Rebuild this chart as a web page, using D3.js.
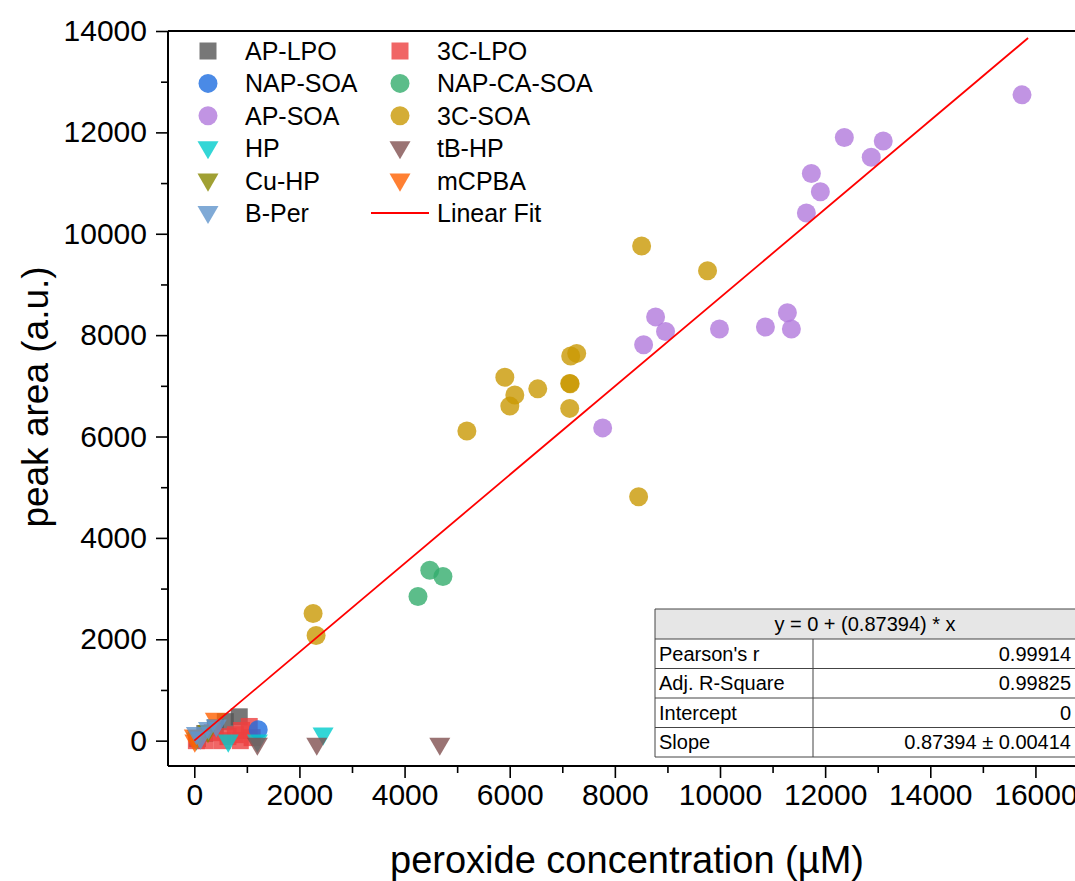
<!DOCTYPE html>
<html>
<head>
<meta charset="utf-8">
<script src="https://cdn.jsdelivr.net/npm/d3@7"></script>
<style>
  body { margin: 0; background: #fff; }
  text { font-family: "Liberation Sans", Arial, sans-serif; }
</style>
</head>
<body>
<div id="chart"></div>
<script>
// values: [peroxide conc (uM), peak area]
const apLpo = [[855, 470], [590, 375], [400, 255], [200, 140], [60, 40]];
const c3Lpo = [[1045, 280], [900, 200], [780, 118], [640, 80], [532, 0], [342, 158], [209, 0], [40, 0], [875, 0], [1100, 60]];
const napSoa = [[1216, 217]];
const napCaSoa = [[4480, 3360], [4730, 3240], [4255, 2845]];
const apSoa = [[15745, 12740], [12365, 11900], [13105, 11830], [12877, 11510], [11738, 11190], [11909, 10830],
               [11643, 10410], [8775, 8360], [8964, 8070], [8547, 7810], [9990, 8120], [10864, 8160],
               [11282, 8440], [11358, 8120], [7768, 6170]];
const c3Soa = [[8509, 9760], [9763, 9270], [7274, 7640], [7160, 7590], [7141, 7048], [7150, 7040],
               [7141, 6555], [6533, 6940], [6097, 6820], [5907, 7170], [6002, 6600], [5185, 6110],
               [8452, 4810], [2260, 2510], [2317, 2075]];
const hp = [[646, 0], [1200, 0], [2450, 140], [40, 40]];
const tbHp = [[1200, -60], [2330, -60], [4670, -60]];
const cuHp = [[60, 90], [260, 190]];
const mcpba = [[400, 430], [0, 100], [10, 0]];
const bPer = [[40, 150], [270, 250], [420, 300], [120, 60]];

const seriesNames = ["AP-LPO", "3C-LPO", "NAP-SOA", "NAP-CA-SOA", "AP-SOA", "3C-SOA",
                     "HP", "tB-HP", "Cu-HP", "mCPBA", "B-Per"];
const seriesData = [apLpo, c3Lpo, napSoa, napCaSoa, apSoa, c3Soa, hp, tbHp, cuHp, mcpba, bPer];
const seriesShape = ["square", "square", "circle", "circle", "circle", "circle",
                     "tri", "tri", "tri", "tri", "tri"];
const seriesColor = ["#555555", "#ec4040", "#1d6de0", "#33ac6d", "#b179dc", "#c99804",
                     "#00cccc", "#815050", "#888800", "#ff6000", "#6095cc"];

const fitSlope = 0.87394;
const fitRange = [0, 15860];

const xTicks = [0, 2000, 4000, 6000, 8000, 10000, 12000, 14000, 16000];
const yTicks = [0, 2000, 4000, 6000, 8000, 10000, 12000, 14000];

const tableTitle = "y = 0 + (0.87394) * x";
const tableRows = [["Pearson's r", "0.99914"], ["Adj. R-Square", "0.99825"],
                   ["Intercept", "0"], ["Slope", "0.87394 \u00b1 0.00414"]];

const width = 1075, height = 881;
const pLeft = 168, pTop = 31, pBottom = 766, pRight = 1088;

const svg = d3.select("#chart").append("svg")
    .attr("width", width)
    .attr("height", height);

const x = d3.scaleLinear().domain([-500, 17000]).range([pLeft, pRight]);
const y = d3.scaleLinear().domain([-500, 14000]).range([pBottom, pTop]);

// symbols
const sym = {
    square: d3.symbol(d3.symbolSquare, 17 * 17)(),
    circle: d3.symbol(d3.symbolCircle, Math.PI * 9.5 * 9.5)(),
    tri: d3.symbol(d3.symbolTriangle, Math.sqrt(3) / 4 * 21 * 21)()
};
const symRot = s => s === "tri" ? " rotate(180)" : "";

// points
seriesData.forEach((pts, i) => {
    svg.append("g").selectAll("path")
        .data(pts)
        .enter().append("path")
        .attr("d", sym[seriesShape[i]])
        .attr("transform", d => `translate(${x(d[0])},${y(d[1])})` + symRot(seriesShape[i]))
        .attr("fill", seriesColor[i])
        .attr("fill-opacity", 0.8);
});

// linear fit
svg.append("line")
    .attr("x1", x(fitRange[0])).attr("y1", y(fitRange[0] * fitSlope))
    .attr("x2", x(fitRange[1])).attr("y2", y(fitRange[1] * fitSlope))
    .attr("stroke", "#ff0000")
    .attr("stroke-width", 1.8);

// axes
const xAxis = svg.append("g")
    .attr("transform", `translate(0,${pBottom})`)
    .call(d3.axisBottom(x).tickValues(xTicks).tickSize(12).tickPadding(6).tickFormat(d3.format("d")));
svg.append("g")
    .attr("transform", `translate(0,${pBottom})`)
    .call(d3.axisBottom(x).tickValues(d3.range(1000, 17000, 2000)).tickSize(7).tickFormat(""))
    .select(".domain").remove();
const yAxis = svg.append("g")
    .attr("transform", `translate(${pLeft},0)`)
    .call(d3.axisLeft(y).tickValues(yTicks).tickSize(12).tickPadding(9).tickFormat(d3.format("d")));
svg.append("g")
    .attr("transform", `translate(${pLeft},0)`)
    .call(d3.axisLeft(y).tickValues(d3.range(1000, 14000, 2000)).tickSize(7).tickFormat(""))
    .select(".domain").remove();

svg.selectAll(".tick line").attr("stroke", "#000").attr("stroke-width", 1.6);
svg.selectAll(".domain").attr("stroke", "#000").attr("stroke-width", 2);
xAxis.selectAll(".domain").attr("d", `M${pLeft},0H${pRight}`);
yAxis.selectAll(".domain").attr("d", `M0,${pBottom}V${pTop}`);
svg.selectAll(".tick text").attr("font-size", 30).attr("fill", "#000")
    .attr("font-family", "'Liberation Sans', Arial, sans-serif");

// top frame
svg.append("line")
    .attr("x1", pLeft).attr("x2", pRight).attr("y1", pTop).attr("y2", pTop)
    .attr("stroke", "#000").attr("stroke-width", 2);

// axis titles
svg.append("text")
    .attr("x", 627).attr("y", 873)
    .attr("text-anchor", "middle")
    .attr("font-size", 38)
    .text("peroxide concentration (\u00b5M)");
svg.append("text")
    .attr("transform", "translate(48,397) rotate(-90)")
    .attr("text-anchor", "middle")
    .attr("font-size", 37)
    .text("peak area (a.u.)");

// legend
const legend = svg.append("g");
const legendItems = seriesNames.map((n, i) => ({ name: n, shape: seriesShape[i], color: seriesColor[i] }))
    .concat([{ name: "Linear Fit", shape: "line", color: "#ff0000" }]);
legendItems.forEach((d, i) => {
    const col = i % 2, row = Math.floor(i / 2);
    const sx = col === 0 ? 208 : 400;
    const ty = 51 + row * 32.4;
    if (d.shape === "line") {
        legend.append("line")
            .attr("x1", sx - 29).attr("x2", sx + 29).attr("y1", ty).attr("y2", ty)
            .attr("stroke", d.color).attr("stroke-width", 1.8);
    } else {
        legend.append("path")
            .attr("d", sym[d.shape])
            .attr("transform", `translate(${sx},${ty + (d.shape === "tri" ? -1 : 0)})` + symRot(d.shape))
            .attr("fill", d.color)
            .attr("fill-opacity", 0.8);
    }
    legend.append("text")
        .attr("x", sx + 37).attr("y", ty)
        .attr("dy", "0.36em")
        .attr("font-size", 25)
        .text(d.name);
});

// fit table
const tx0 = 655, tx1 = 1090, tDiv = 813, tTop = 609, headH = 30, rowH = 29.5;
const table = svg.append("g");
table.append("rect")
    .attr("x", tx0).attr("y", tTop).attr("width", tx1 - tx0).attr("height", headH)
    .attr("fill", "#e6e6e6");
table.append("rect")
    .attr("x", tx0).attr("y", tTop + headH).attr("width", tx1 - tx0).attr("height", rowH * tableRows.length)
    .attr("fill", "#fff");
table.append("text")
    .attr("x", (tx0 + 1075) / 2).attr("y", tTop + headH / 2)
    .attr("dy", "0.36em").attr("text-anchor", "middle")
    .attr("font-size", 20)
    .text(tableTitle);
tableRows.forEach((r, i) => {
    const ry = tTop + headH + i * rowH;
    table.append("text")
        .attr("x", tx0 + 4).attr("y", ry + rowH / 2).attr("dy", "0.36em")
        .attr("font-size", 20).text(r[0]);
    table.append("text")
        .attr("x", 1071).attr("y", ry + rowH / 2).attr("dy", "0.36em")
        .attr("text-anchor", "end")
        .attr("font-size", 20).text(r[1]);
});
const tLines = d3.range(tableRows.length + 2).map(i => i === 0 ? tTop : tTop + headH + (i - 1) * rowH);
table.selectAll(".hl").data(tLines).enter().append("line")
    .attr("x1", tx0).attr("x2", tx1)
    .attr("y1", d => d).attr("y2", d => d)
    .attr("stroke", "#444").attr("stroke-width", 1);
table.append("line")
    .attr("x1", tx0).attr("x2", tx0).attr("y1", tTop).attr("y2", tLines[tLines.length - 1])
    .attr("stroke", "#444").attr("stroke-width", 1);
table.append("line")
    .attr("x1", tDiv).attr("x2", tDiv).attr("y1", tTop + headH).attr("y2", tLines[tLines.length - 1])
    .attr("stroke", "#444").attr("stroke-width", 1);
</script>
</body>
</html>
